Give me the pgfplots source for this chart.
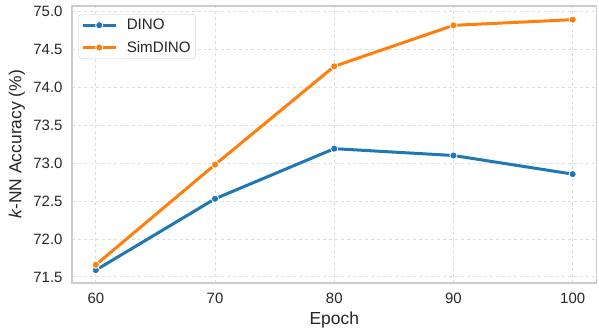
\documentclass[border=0pt]{standalone}
\usepackage{fontspec}
\setmainfont{Liberation Sans}
\usepackage{pgfplots}
\pgfplotsset{compat=1.18}
\definecolor{c1}{HTML}{1F77B4}
\definecolor{c2}{HTML}{FF7F0E}
\definecolor{gridc}{HTML}{DDDDDD}
\definecolor{spinec}{HTML}{CCCCCC}
\definecolor{txt}{HTML}{262626}
\begin{document}
\begin{tikzpicture}
\begin{axis}[
  scale only axis,
  width=524.5bp, height=277bp,
  xmin=58, xmax=102,
  ymin=71.42, ymax=75.07,
  xtick={60,70,80,90,100},
  ytick={71.5,72.0,72.5,73.0,73.5,74.0,74.5,75.0},
  yticklabel style={/pgf/number format/fixed, /pgf/number format/fixed zerofill, /pgf/number format/precision=1, xshift=-6bp},
  /pgf/number format/assume math mode=true,
  tick label style={font=\fontsize{15}{17}\selectfont, text=txt},
  major tick length=0pt,
  xticklabel style={yshift=-6.5bp},
  grid=major,
  major grid style={gridc, dashed, line width=0.9bp},
  axis line style={spinec, line width=1.2bp},
  xlabel={Epoch},
  ylabel={\textit{k}-NN Accuracy (\%)},
  label style={font=\fontsize{17.5}{19}\selectfont, text=txt},
  xlabel style={at={(axis description cs:0.5,-0.1516)}, anchor=base},
  ylabel style={at={(axis description cs:-0.1049,0.5)}, anchor=center},
  legend style={font=\fontsize{15.2}{17}\selectfont, text=txt, draw=spinec, rounded corners=3bp,
    at={(0.0125,0.9711)}, anchor=north west, row sep=5bp, column sep=7bp,
    inner xsep=2.5bp, inner ysep=2.5bp, nodes={inner sep=2.5bp}},
  legend cell align=left,
  legend image code/.code={
    \draw[#1, mark=none] (0bp,0bp) -- (33bp,0bp);
    \draw[#1, only marks] plot coordinates {(16.5bp,0bp)};
  },
]
\addplot[c1, line width=3bp, mark=*, mark size=3.6bp, mark options={draw=white, line width=0.8bp, fill=c1}]
  coordinates {(60,71.59) (70,72.53) (80,73.19) (90,73.10) (100,72.855)};
\addlegendentry{DINO}
\addplot[c2, line width=3bp, mark=*, mark size=3.6bp, mark options={draw=white, line width=0.8bp, fill=c2}]
  coordinates {(60,71.66) (70,72.98) (80,74.275) (90,74.815) (100,74.89)};
\addlegendentry{SimDINO}
\coordinate (bl) at (rel axis cs:0,0);
\coordinate (tr) at (rel axis cs:1,1);
\end{axis}
\path (bl) ++(-72bp,-44bp) (tr) ++(2.5bp,6bp);
\end{tikzpicture}
\end{document}
